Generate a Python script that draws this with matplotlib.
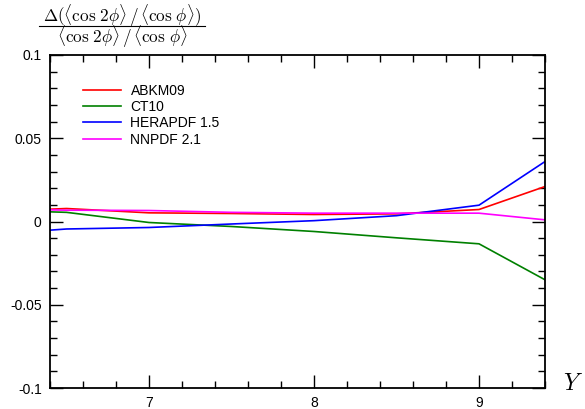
import matplotlib
matplotlib.use("Agg")
import matplotlib.pyplot as plt
from matplotlib.lines import Line2D
from matplotlib.ticker import MultipleLocator, FixedLocator

plt.rcParams['font.family'] = ['Liberation Sans', 'DejaVu Sans']
plt.rcParams['mathtext.fontset'] = 'cm'

Y = [6.4, 6.5, 7.0, 7.5, 8.0, 8.5, 9.0, 9.4]
abkm09 = [0.0074, 0.0078, 0.0052, 0.0048, 0.0042, 0.0046, 0.0072, 0.021]
ct10 = [0.0058, 0.0055, -0.0006, -0.0030, -0.0060, -0.0098, -0.0134, -0.035]
herapdf = [-0.0052, -0.0045, -0.0036, -0.0015, 0.0005, 0.0035, 0.0098, 0.036]
nnpdf = [0.0070, 0.0068, 0.0066, 0.0055, 0.0050, 0.0050, 0.0050, 0.0010]
labels = ["ABKM09", "CT10", "HERAPDF 1.5", "NNPDF 2.1"]
colors = ["#ff0000", "#008000", "#0000ff", "#ff00ff"]
yticks = [-0.1, -0.05, 0, 0.05, 0.1]
yticklabels = ["-0.1", "-0.05", "0", "0.05", "0.1"]
xticks = [7, 8, 9]

W, H = 585, 409
fig = plt.figure(figsize=(W/100, H/100), dpi=100)
ax = fig.add_axes([50/W, 21/H, 495/W, 333/H])

for s, lab, c in zip([abkm09, ct10, herapdf, nnpdf], labels, colors):
    ax.plot(Y, s, color=c, lw=1.2, label=lab)

ax.set_xlim(6.4, 9.4)
ax.set_ylim(-0.1, 0.1)
ax.xaxis.set_major_locator(FixedLocator(xticks))
ax.xaxis.set_minor_locator(MultipleLocator(0.2))
ax.yaxis.set_major_locator(FixedLocator(yticks))
ax.yaxis.set_minor_locator(MultipleLocator(0.01))
ax.set_yticklabels(yticklabels)
ax.set_xticklabels([str(t) for t in xticks])
ax.tick_params(which='both', direction='in', top=True, right=True, labelsize=10, width=1)
ax.tick_params(which='major', length=9.5, pad=6)
ax.tick_params(which='minor', length=5)
for sp in ax.spines.values():
    sp.set_linewidth(1.3)

ax.legend(loc='upper left', bbox_to_anchor=(0.056, 0.93), frameon=False,
          fontsize=10, handlelength=2.7, labelspacing=0.16, handletextpad=0.7,
          borderaxespad=0)

# title fraction drawn as numerator, bar, denominator
xc = (39 + 205) / 2
fig.text(xc/W, 1 - 15.5/H,
         r'$\Delta(\langle\cos\,2\phi\rangle\,/\,\langle\cos\,\phi\rangle)$',
         fontsize=12.3, ha='center', va='center')
fig.add_artist(Line2D([39/W, 205/W], [1 - 26/H, 1 - 26/H], color='black', lw=0.8,
                      transform=fig.transFigure))
fig.text(xc/W, 1 - 36.5/H,
         r'$\langle\cos\,2\phi\rangle\,/\,\langle\cos\,\phi\rangle$',
         fontsize=12.3, ha='center', va='center')
fig.text(563/W, 1 - 384/H, r'$Y$', fontsize=17, ha='left', va='center')

fig.savefig("out.png", dpi=100)
